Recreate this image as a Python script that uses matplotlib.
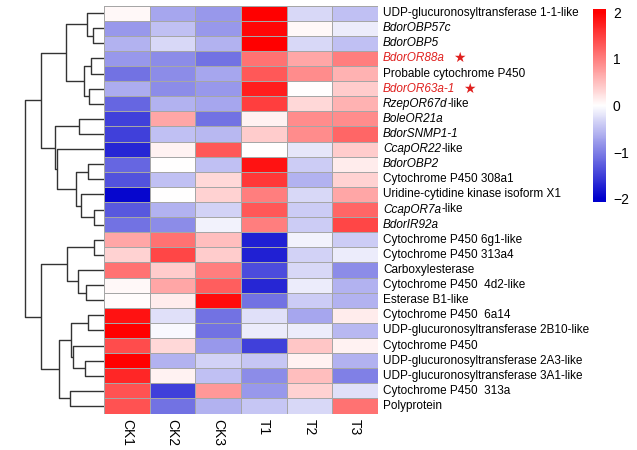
#!/usr/bin/env python3
"""Clustered expression heatmap (row z-scores) with a row dendrogram,
recreated with plain matplotlib."""

import matplotlib
matplotlib.use("Agg")
import matplotlib.pyplot as plt
import numpy as np
from matplotlib.colors import LinearSegmentedColormap

plt.rcParams["font.family"] = ["Liberation Sans", "DejaVu Sans"]

# ---- data -------------------------------------------------------------
samples = ["CK1", "CK2", "CK3", "T1", "T2", "T3"]

# each row label: list of (text, style) pieces
genes = [
    [("UDP-glucuronosyltransferase 1-1-like", "normal")],
    [("BdorOBP57c", "italic")],
    [("BdorOBP5", "italic")],
    [("BdorOR88a", "italic")],
    [("Probable cytochrome P450", "normal")],
    [("BdorOR63a-1", "italic")],
    [("RzepOR67d", "italic"), ("-like", "normal")],
    [("BoleOR21a", "italic")],
    [("BdorSNMP1-1", "italic")],
    [("CcapOR22", "italic"), ("-like", "normal")],
    [("BdorOBP2", "italic")],
    [("Cytochrome P450 308a1", "normal")],
    [("Uridine-cytidine kinase isoform X1", "normal")],
    [("CcapOR7a", "italic"), ("-like", "normal")],
    [("BdorIR92a", "italic")],
    [("Cytochrome P450 6g1-like", "normal")],
    [("Cytochrome P450 313a4", "normal")],
    [("Carboxylesterase", "normal")],
    [("Cytochrome P450  4d2-like", "normal")],
    [("Esterase B1-like", "normal")],
    [("Cytochrome P450  6a14", "normal")],
    [("UDP-glucuronosyltransferase 2B10-like", "normal")],
    [("Cytochrome P450", "normal")],
    [("UDP-glucuronosyltransferase 2A3-like", "normal")],
    [("UDP-glucuronosyltransferase 3A1-like", "normal")],
    [("Cytochrome P450  313a", "normal")],
    [("Polyprotein", "normal")],
]
highlighted = [3, 5]  # rows drawn in red with a star

ck1 = [0.05, -0.8, -0.6, -0.8, -1.1, -0.65, -1.2, -1.5, -1.5, -1.7, -1.2,
       -1.35, -1.95, -1.3, -1.1, 0.7, 0.35, 1.1, 0.05, 0.02, 1.85, 2.0,
       1.4, 2.0, 1.7, 1.35, 1.35]
ck2 = [-0.7, -0.5, -0.3, -0.9, -0.9, -0.9, -0.6, 0.7, -0.5, 0.1, 0.0,
       -0.5, 0.0, -0.6, -0.9, 1.1, 1.45, 0.4, 0.7, 0.15, -0.25, -0.05,
       0.3, -0.6, 0.1, -1.5, -1.1]
ck3 = [-0.8, -0.8, -0.6, -1.1, -0.7, -0.8, -0.7, -1.1, -0.55, 1.3, -0.5,
       0.3, 0.35, -0.35, -0.1, 0.5, 0.4, 1.0, 1.25, 1.9, -1.1, -1.1,
       -0.8, -0.35, -0.5, 0.8, -0.6]
t1 = [2.0, 1.95, 2.0, 1.1, 1.3, 1.75, 1.5, 0.1, 0.4, 0.0, 1.85, 1.55,
      1.0, 1.3, 1.0, -1.75, -1.75, -1.4, -1.7, -1.1, -0.25, -0.15, -1.5,
      -0.45, -0.9, -0.8, -0.45]
t2 = [-0.3, 0.05, -0.3, 0.7, 0.9, 0.0, 0.3, 0.9, 0.9, -0.2, -0.4, -0.6,
      -0.3, -0.4, -0.4, -0.1, -0.35, -0.3, -0.15, -0.4, -0.7, -0.15,
      0.45, 0.1, 0.5, 0.35, -0.3]
t3 = [-0.5, -0.15, -0.5, 1.0, 0.6, 0.4, 0.6, 0.9, 1.2, 0.4, 0.15, 0.35,
      0.7, 1.2, 1.45, -0.4, -0.15, -0.9, -0.6, -0.6, 0.15, -0.55, 0.1,
      -0.6, -1.0, -0.25, 1.1]

# row dendrogram, scipy-linkage style: (left id, right id, height)
# leaves are 0..26, merged clusters numbered from 27 on
merges = [
    (1, 2, 10.7), (0, 27, 16.7), (3, 4, 13.0), (5, 6, 15.0),
    (29, 30, 20.3), (28, 31, 38.3), (7, 8, 25.0), (10, 11, 16.3),
    (13, 14, 9.7), (12, 35, 23.3), (34, 36, 28.0), (9, 37, 47.3),
    (33, 38, 49.0), (32, 39, 63.0), (15, 16, 10.0), (18, 19, 18.0),
    (17, 42, 26.3), (41, 43, 36.7), (20, 21, 16.3), (23, 24, 19.0),
    (22, 46, 30.7), (45, 47, 33.0), (25, 26, 34.0), (48, 49, 44.7),
    (44, 50, 63.0), (40, 51, 79.0),
]

# ---- figure -----------------------------------------------------------
W, H = 637, 450
fig = plt.figure(figsize=(W / 100, H / 100), dpi=100)


def px_axes(x0, y0, x1, y1):
    return fig.add_axes([x0 / W, 1 - y1 / H, (x1 - x0) / W, (y1 - y0) / H])


cmap = LinearSegmentedColormap.from_list(
    "bwr_ph", ["#0000CD", "#FFFFFF", "#FF0000"])
n_rows, n_cols = len(genes), len(samples)
values = np.column_stack([ck1, ck2, ck3, t1, t2, t3])

hm_top, hm_bot = 5.5, 413.5
ax = px_axes(104, hm_top, 378, hm_bot)
ax.pcolormesh(np.arange(n_cols + 1), np.arange(n_rows + 1), values,
              cmap=cmap, vmin=-2, vmax=2, edgecolors="#A6A6A6",
              linewidth=0.6)
ax.set_xlim(0, n_cols)
ax.set_ylim(n_rows, 0)
for s in ax.spines.values():
    s.set_visible(False)
ax.set_yticks([])
ax.set_xticks(np.arange(n_cols) + 0.5)
ax.set_xticklabels(samples, rotation=-90, fontsize=10)
ax.tick_params(axis="x", length=0, pad=4)

# row labels, mixed italic / upright pieces
trans = ax.get_yaxis_transform()
for i, pieces in enumerate(genes):
    color = "#E0201E" if i in highlighted else "black"
    prev = None
    for txt, style in pieces:
        if prev is None:
            prev = ax.text(1 + 5 / 274, i + 0.5, txt, transform=trans,
                           fontsize=8.5, style=style, color=color,
                           ha="left", va="center")
        else:
            prev = ax.annotate(txt, xy=(1, 0), xycoords=prev,
                               fontsize=8.5, style=style, color=color,
                               ha="left", va="bottom")
    if i in highlighted:
        ax.annotate("\u2605", xy=(1, 0.5), xycoords=prev,
                    xytext=(6, 0), textcoords="offset points",
                    fontsize=10, color=color, family="DejaVu Sans",
                    ha="left", va="center")

# dendrogram
dax = px_axes(20, hm_top, 104, hm_bot)
pos = {k: (0.0, k + 0.5) for k in range(n_rows)}
for j, (a, b, h) in enumerate(merges):
    ha_, ya = pos[a]
    hb, yb = pos[b]
    dax.plot([ha_, h, h, hb], [ya, ya, yb, yb], color="#333333",
             linewidth=1.0, solid_capstyle="butt")
    pos[n_rows + j] = (h, (ya + yb) / 2)
dax.set_xlim(84, 0)
dax.set_ylim(n_rows, 0)
dax.axis("off")

# colour key
cax = px_axes(593, 9.3, 606, 201.7)
grad = np.linspace(2.06, -2.06, 256).reshape(-1, 1)
cax.imshow(grad, cmap=cmap, vmin=-2, vmax=2, aspect="auto",
           extent=[0, 1, -2.06, 2.06])
cax.set_xticks([])
cax.yaxis.tick_right()
cax.set_yticks([2, 1, 0, -1, -2])
cax.set_yticklabels(["2", "1", "0", "\u22121", "\u22122"], fontsize=10)
cax.tick_params(axis="y", length=0, pad=5)
for s in cax.spines.values():
    s.set_visible(False)

fig.savefig("out.png", dpi=100)
